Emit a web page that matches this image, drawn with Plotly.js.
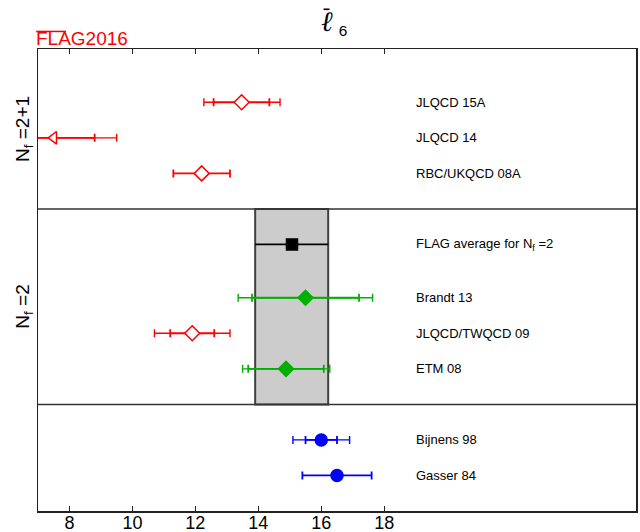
<!DOCTYPE html>
<html>
<head>
<meta charset="utf-8">
<script src="https://cdn.plot.ly/plotly-3.0.1.min.js"></script>
<style>html,body{margin:0;padding:0;background:#fff;}#chart{width:640px;height:532px;}</style>
</head>
<body>
<div id="chart"></div>
<script>
// ---- data ----
const labels = ["JLQCD 15A", "JLQCD 14", "RBC/UKQCD 08A", "FLAG average for N<sub>f</sub> =2",
                "Brandt 13", "JLQCD/TWQCD 09", "ETM 08", "Bijnens 98", "Gasser 84"];
const values    = [13.47, 7.5, 12.2, 15.07, 15.5, 11.9, 14.88, 16.0, 16.5];
const statMinus = [0.89, 1.3, 0.9, 1.17, 1.7, 0.7, 1.2, 0.5, 1.1];
const statPlus  = [0.88, 1.3, 0.9, 1.15, 1.7, 0.7, 1.2, 0.5, 1.1];
const totMinus  = [1.2, 2.0, 0.9, 1.17, 2.14, 1.2, 1.38, 0.9, 1.1];
const totPlus   = [1.22, 2.0, 0.9, 1.15, 2.13, 1.2, 1.39, 0.9, 1.1];
const kinds     = ["open", "open", "open", "avg", "green", "open", "green", "blue", "blue"];
const groupLabels = ["N<sub>f</sub> =2+1", "N<sub>f</sub> =2", ""];
const tickVals = [8, 10, 12, 14, 16, 18];

// ---- layout helpers ----
const rowY = [11.5, 10.5, 9.5, 7.5, 6, 5, 4, 2, 1];
const groupBounds = [[8.5, 13], [3, 8.5], [0, 3]];
const symbols = ["diamond", "triangle-left", "diamond", "square", "diamond", "diamond", "diamond", "circle", "circle"];
const styleOf = {
  open:  {c: "#ff0000", fill: "#ffffff"},
  avg:   {c: "#000000", fill: "#000000"},
  green: {c: "#00b000", fill: "#00b000"},
  blue:  {c: "#0000ff", fill: "#0000ff"}
};
const sizeOf = {diamond: 11.5, "triangle-left": 11, square: 11, circle: 12};

const traces = [];
values.forEach((v, i) => {
  const st = styleOf[kinds[i]];
  const hasOuter = (totMinus[i] !== statMinus[i]) || (totPlus[i] !== statPlus[i]);
  if (hasOuter) {
    traces.push({
      type: "scatter", mode: "markers", x: [v], y: [rowY[i]],
      marker: {size: 1, opacity: 0},
      error_x: {type: "data", symmetric: false, array: [totPlus[i]], arrayminus: [totMinus[i]],
                color: st.c, thickness: 1.4, width: 4, opacity: 0.8},
      hoverinfo: "skip", showlegend: false
    });
  }
  traces.push({
    type: "scatter", mode: "markers", x: [v], y: [rowY[i]],
    marker: {symbol: symbols[i], size: sizeOf[symbols[i]], color: st.fill,
             line: {color: st.c, width: 1.5}},
    error_x: {type: "data", symmetric: false, array: [statPlus[i]], arrayminus: [statMinus[i]],
              color: st.c, thickness: 1.8, width: kinds[i] === "avg" ? 0 : 4},
    showlegend: false, name: labels[i]
  });
});

const annotations = labels.map((t, i) => ({
  x: 19, y: rowY[i], xref: "x", yref: "y", xshift: -2, text: t, showarrow: false,
  xanchor: "left", yanchor: "middle",
  font: {family: "Liberation Sans, Arial, sans-serif", size: 13, color: "#000"}
}));
groupLabels.forEach((t, g) => {
  if (!t) return;
  annotations.push({
    x: 0, xref: "paper", xshift: -14, y: (groupBounds[g][0] + groupBounds[g][1]) / 2, yref: "y",
    text: t, textangle: -90, showarrow: false, xanchor: "center", yanchor: "middle",
    font: {family: "Liberation Sans, Arial, sans-serif", size: 19, color: "#000"}
  });
});
annotations.push({
  x: 0.5, xref: "paper", xshift: -3, y: 1, yref: "paper", yanchor: "bottom", yshift: 8,
  text: "<span style='font-family:DejaVu Serif;font-size:28px;font-style:italic'>ℓ</span> <sub>6</sub>",
  showarrow: false, font: {family: "Liberation Sans, Arial, sans-serif", size: 22, color: "#000"}
});
annotations.push({
  x: 0, xref: "paper", xanchor: "left", xshift: -4, y: 1, yref: "paper", yanchor: "bottom", yshift: -2,
  text: "FLAG2016", showarrow: false,
  font: {family: "Liberation Sans, Arial, sans-serif", size: 19, color: "#ff0000"}
});

const bandIdx = 3;
const shapes = [
  {type: "rect", xref: "x", yref: "y", layer: "below",
   x0: values[bandIdx] - totMinus[bandIdx], x1: values[bandIdx] + totPlus[bandIdx],
   y0: groupBounds[1][0], y1: groupBounds[1][1],
   fillcolor: "#cccccc", line: {color: "#404040", width: 2}},
  {type: "line", xref: "paper", yref: "y", x0: 0, x1: 1, y0: groupBounds[0][0], y1: groupBounds[0][0],
   line: {color: "#333333", width: 1.5}},
  {type: "line", xref: "paper", yref: "y", x0: 0, x1: 1, y0: groupBounds[1][0], y1: groupBounds[1][0],
   line: {color: "#333333", width: 1.5}},
  // FLAG logo overline
  {type: "line", xref: "paper", yref: "paper", x0: -0.003, x1: 0.047, y0: 1.038, y1: 1.038,
   line: {color: "#ff0000", width: 1.5}},
  // bar over the ell in the title
  {type: "line", xref: "paper", yref: "paper", x0: 0.4775, x1: 0.4875, y0: 1.086, y1: 1.086,
   line: {color: "#000000", width: 1.6}}
];

const layout = {
  width: 640, height: 532,
  margin: {l: 38, r: 4, t: 49, b: 21, pad: 0},
  paper_bgcolor: "#ffffff", plot_bgcolor: "#ffffff",
  showlegend: false,
  xaxis: {range: [7, 26], tickvals: tickVals, ticktext: tickVals.map(String),
          ticks: "inside", ticklen: 5, tickwidth: 1.3, tickcolor: "#222",
          showline: true, linecolor: "#222", linewidth: 1.5, mirror: "ticks",
          showgrid: false, zeroline: false, ticklabelstandoff: -5,
          tickfont: {family: "Liberation Sans, Arial, sans-serif", size: 18, color: "#000"}},
  yaxis: {range: [0, 13], showticklabels: false, ticks: "",
          showline: true, linecolor: "#222", linewidth: 1.5, mirror: true,
          showgrid: false, zeroline: false},
  shapes: shapes,
  annotations: annotations
};

Plotly.newPlot("chart", traces, layout, {displayModeBar: false, staticPlot: true});
</script>
</body>
</html>
